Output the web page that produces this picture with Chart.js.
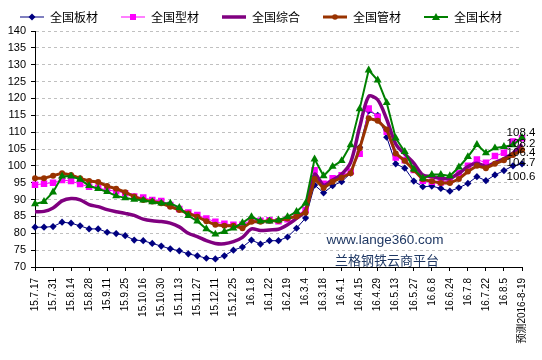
<!DOCTYPE html>
<html>
<head>
<meta charset="utf-8">
<script src="https://cdn.jsdelivr.net/npm/chart.js@4.4.0/dist/chart.umd.min.js"></script>
<style>
  html, body { margin: 0; padding: 0; background: #fff; }
  #wrap { width: 542px; height: 360px; }
</style>
</head>
<body>
<div id="wrap"><canvas id="priceChart" width="542" height="360"></canvas></div>
<script>
// every other week carries a label on the axis
const tickLabels = ['15.7.17', '15.7.31', '15.8.14', '15.8.28', '15.9.11', '15.9.25', '15.10.16',
  '15.10.30', '15.11.13', '15.11.27', '15.12.11', '15.12.25', '16.1.8', '16.1.22', '16.2.19',
  '16.3.4', '16.3.18', '16.4.1', '16.4.15', '16.4.29', '16.5.13', '16.5.27', '16.6.8',
  '16.6.24', '16.7.8', '16.7.22', '16.8.5', '预测2016-8-19'];

const seriesNames = ['全国板材', '全国型材', '全国综合', '全国管材', '全国长材'];

const plate = [81.8, 81.8, 82.0, 83.3, 83.0, 82.2, 81.3, 81.3, 80.3, 79.9,
  79.3, 78.0, 77.8, 77.0, 76.2, 75.4, 74.8, 73.9, 73.3, 72.6,
  72.4, 73.3, 75.0, 75.9, 78.0, 76.8, 77.8, 77.8, 78.9, 81.5,
  84.5, 94.3, 92.0, 94.1, 95.3, 97.8, 105.5, 116.3, 115.0, 108.5,
  100.6, 99.3, 95.5, 93.8, 94.0, 93.3, 92.5, 93.5, 94.8, 96.8,
  95.6, 97.3, 98.6, 100.0, 100.6];

const section = [94.4, 94.7, 95.0, 95.8, 95.5, 94.6, 93.8, 93.5, 92.8, 92.5,
  91.9, 90.9, 90.6, 89.9, 89.6, 88.4, 87.2, 86.2, 85.4, 84.4,
  83.4, 82.8, 82.5, 82.5, 83.9, 83.7, 83.9, 83.6, 84.2, 85.4,
  86.9, 98.7, 94.7, 96.3, 97.2, 98.3, 103.6, 117.0, 114.6, 110.1,
  102.5, 101.7, 98.8, 95.6, 95.3, 95.1, 95.5, 97.8, 100.0, 101.9,
  100.9, 102.9, 103.9, 107.2, 108.2];

const composite = [86.4, 86.5, 87.5, 89.6, 90.3, 89.9, 88.5, 87.9, 87.0, 86.4,
  85.9, 85.3, 84.2, 83.7, 83.5, 83.0, 81.9, 80.0, 79.0, 77.8,
  77.0, 76.9, 77.5, 78.8, 81.3, 80.8, 81.0, 81.2, 82.5, 84.4,
  86.8, 97.5, 94.3, 95.8, 97.5, 101.0, 111.5, 120.6, 119.6, 113.8,
  106.5, 103.5, 100.8, 97.3, 96.8, 96.3, 96.3, 97.8, 99.8, 100.8,
  99.8, 101.0, 102.2, 103.8, 106.4];

const pipe = [96.3, 96.3, 97.1, 97.8, 97.3, 96.3, 95.5, 95.2, 94.0, 93.2,
  92.2, 90.9, 89.9, 89.4, 88.9, 87.9, 86.9, 85.9, 84.9, 83.6,
  82.5, 82.2, 82.2, 81.5, 83.4, 83.4, 83.7, 83.7, 84.4, 85.0,
  86.1, 96.1, 93.4, 95.3, 96.5, 97.8, 105.2, 114.1, 113.4, 110.8,
  103.7, 101.5, 98.8, 96.0, 95.4, 94.9, 94.9, 96.1, 98.3, 100.0,
  99.3, 100.6, 101.7, 103.2, 104.7];

const longSteel = [88.7, 89.4, 92.2, 96.9, 96.9, 96.0, 94.1, 93.2, 92.3, 91.1,
  90.5, 90.0, 89.8, 89.3, 88.9, 88.9, 87.6, 85.2, 83.6, 81.3,
  79.7, 80.5, 81.5, 83.1, 84.9, 83.6, 83.6, 83.9, 84.9, 86.4,
  88.9, 102.0, 97.0, 99.8, 101.5, 106.2, 116.9, 128.4, 125.4, 118.7,
  108.2, 104.2, 99.0, 96.3, 97.4, 97.4, 97.0, 99.6, 102.7, 106.3,
  103.8, 105.3, 105.7, 106.2, 108.4];

const weeks = plate.map((v, i) => (i % 2 === 0 ? tickLabels[i / 2] : ''));

const styles = [
  { color: '#000080', width: 1, point: 'rectRot', radius: 3.6 },
  { color: '#ff00ff', width: 1, point: 'rect', radius: 4.6 },
  { color: '#800080', width: 3.5, point: false, radius: 0 },
  { color: '#993300', width: 3, point: 'circle', radius: 3 },
  { color: '#008000', width: 2, point: 'triangle', radius: 4.6 }
];
const seriesData = [plate, section, composite, pipe, longSteel];

// small picture of line + marker for the legend
function legendIcon(st) {
  const c = document.createElement('canvas');
  c.width = 26; c.height = 10;
  const g = c.getContext('2d');
  g.strokeStyle = st.color;
  g.fillStyle = st.color;
  g.lineWidth = st.width;
  g.beginPath(); g.moveTo(2, 5); g.lineTo(26, 5); g.stroke();
  const x = 14, y = 5;
  g.beginPath();
  if (st.point === 'rectRot') {
    g.moveTo(x - 3.5, y); g.lineTo(x, y - 3.5); g.lineTo(x + 3.5, y); g.lineTo(x, y + 3.5);
  } else if (st.point === 'rect') {
    g.rect(x - 3, y - 3, 6, 6);
  } else if (st.point === 'circle') {
    g.arc(x, y, 2.8, 0, Math.PI * 2);
  } else if (st.point === 'triangle') {
    g.moveTo(x, y - 4); g.lineTo(x + 4, y + 3); g.lineTo(x - 4, y + 3);
  }
  g.closePath();
  if (st.point) g.fill();
  return c;
}

const endLabels = {
  id: 'endLabels',
  afterDatasetsDraw(chart) {
    const offsets = [13, 6, 9, 13, -5];
    const ctx = chart.ctx;
    ctx.save();
    ctx.font = '11.5px "Liberation Sans"';
    ctx.fillStyle = '#000';
    ctx.textAlign = 'center';
    ctx.textBaseline = 'middle';
    chart.data.datasets.forEach((ds, i) => {
      const pts = chart.getDatasetMeta(i).data;
      const last = pts[pts.length - 1];
      ctx.fillText(ds.data[ds.data.length - 1].toFixed(1), last.x - 1, last.y + offsets[i]);
    });
    ctx.restore();
  }
};

const watermark = {
  id: 'watermark',
  afterDatasetsDraw(chart) {
    const ctx = chart.ctx;
    ctx.save();
    ctx.fillStyle = '#1f3864';
    ctx.textAlign = 'center';
    ctx.textBaseline = 'middle';
    ctx.font = '13.5px "Liberation Sans"';
    ctx.fillText('www.lange360.com', 385, 240);
    ctx.font = '13px "Noto Sans CJK SC"';
    ctx.fillText('兰格钢铁云商平台', 387, 260);
    ctx.restore();
  }
};

// move the legend row a little, as in the original
const legendNudge = {
  id: 'legendNudge',
  afterLayout(chart) {
    chart.legend.top += 2;
    chart.legend.bottom += 2;
    chart.legend.left += 5;
    chart.legend.right += 5;
  }
};

const ctx = document.getElementById('priceChart').getContext('2d');
const priceChart = new Chart(ctx, {
  type: 'line',
  data: {
    labels: weeks,
    datasets: seriesNames.map((name, i) => ({
      label: name,
      data: seriesData[i],
      borderColor: styles[i].color,
      backgroundColor: styles[i].color,
      borderWidth: styles[i].width,
      pointStyle: styles[i].point,
      pointRadius: styles[i].radius,
      pointBorderWidth: 0,
      tension: i === 2 ? 0.3 : 0,
      order: 5 - i
    }))
  },
  options: {
    responsive: false,
    animation: false,
    devicePixelRatio: 1,
    layout: { padding: { left: 0, right: 20, top: 0, bottom: 0 } },
    plugins: {
      tooltip: { enabled: false },
      legend: {
        position: 'top',
        labels: {
          usePointStyle: true,
          pointStyleWidth: 26,
          padding: 9,
          color: '#000',
          font: { family: '"Noto Sans CJK SC"', size: 12 },
          generateLabels: (chart) => chart.data.datasets.map((ds, i) => ({
            text: ds.label + '\u3000',
            pointStyle: legendIcon(styles[i]),
            fillStyle: styles[i].color,
            strokeStyle: styles[i].color,
            lineWidth: 0,
            hidden: false,
            datasetIndex: i
          }))
        }
      }
    },
    scales: {
      x: {
        type: 'category',
        offset: false,
        afterBuildTicks: (axis) => { axis.ticks = axis.ticks.filter(t => t.value % 2 === 0); },
        afterFit: (axis) => { axis.height = 93; },
        grid: { drawOnChartArea: false, drawTicks: true, tickLength: 4, tickColor: '#000' },
        border: { color: '#000', width: 1 },
        ticks: {
          autoSkip: false,
          minRotation: 90,
          maxRotation: 90,
          padding: 7,
          color: '#000',
          font: { family: '"Liberation Sans", "Noto Sans CJK SC"', size: 10 }
        }
      },
      y: {
        min: 70,
        max: 140,
        afterFit: (axis) => { axis.width = 35; },
        grid: { color: '#c0c0c0', tickColor: '#000', tickLength: 4 },
        border: { color: '#000', width: 1, dash: [3, 3] },
        ticks: {
          stepSize: 5,
          padding: 5,
          color: '#000',
          font: { family: '"Liberation Sans"', size: 11 }
        }
      }
    }
  },
  plugins: [endLabels, watermark, legendNudge]
});
</script>
</body>
</html>
